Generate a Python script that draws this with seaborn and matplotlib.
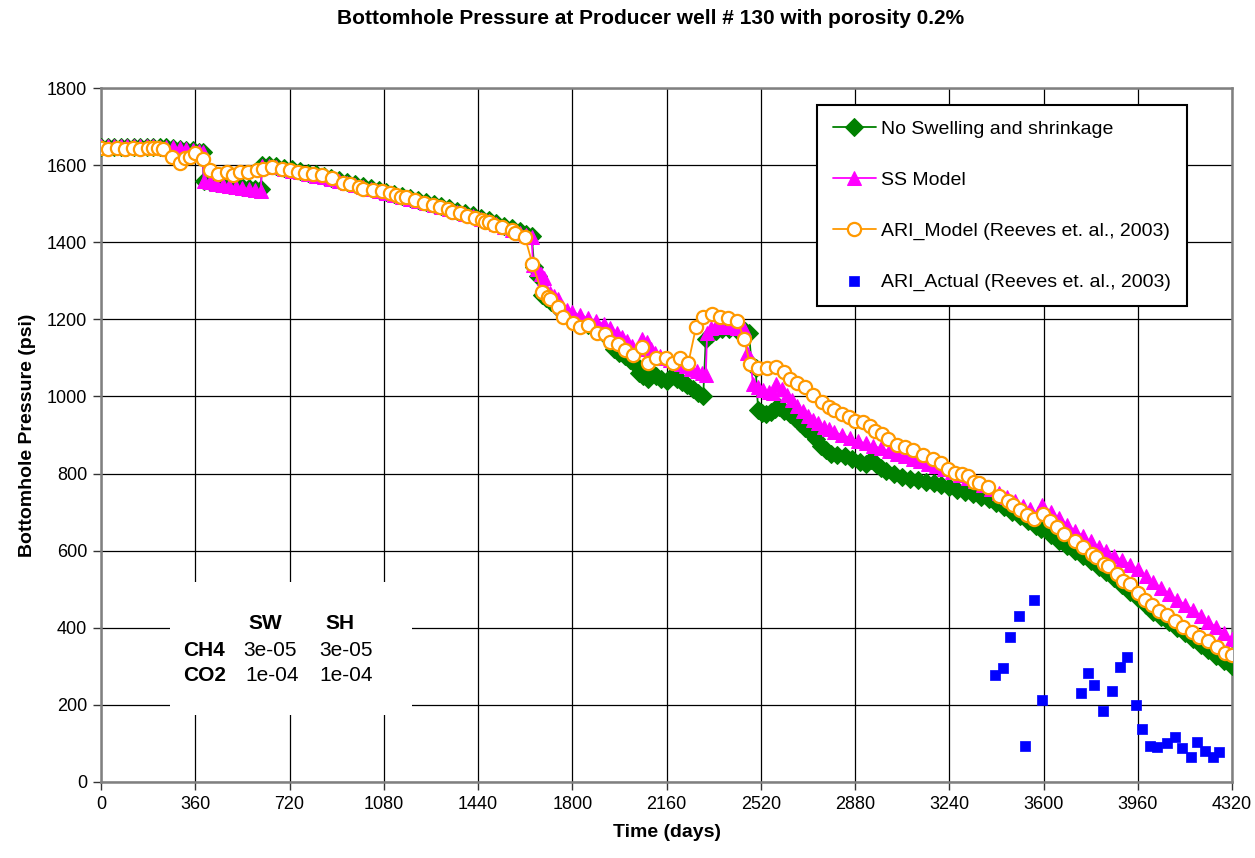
import numpy as np
import pandas as pd
import matplotlib
matplotlib.use("Agg")
import matplotlib.pyplot as plt
from matplotlib.patches import Rectangle
import seaborn as sns

# No swelling and shrinkage (green diamonds)
green_days = [0, 25, 50, 75, 100, 125, 150, 175, 200, 225, 250, 275, 300, 325, 350, 375, 388,
              392, 415, 440, 465, 490, 515, 540, 565, 590, 610,
              615, 640, 670, 700, 730, 760, 790, 820, 850, 880, 910, 940, 970, 1000, 1030, 1060,
              1090, 1120, 1150, 1180, 1210, 1240, 1270, 1300, 1330, 1360, 1390, 1420, 1450, 1480,
              1510, 1540, 1570, 1600, 1625, 1645,
              1655, 1670, 1685, 1700, 1720, 1740, 1760, 1780, 1800, 1830, 1860, 1890, 1920, 1945,
              1960, 1980, 2000, 2020, 2040, 2055, 2070, 2090, 2105, 2120, 2140, 2160, 2180, 2200,
              2220, 2240, 2260, 2280, 2300,
              2310, 2330, 2350, 2370, 2400, 2430, 2460, 2475, 2485, 2500,
              2510, 2525, 2540, 2560, 2575, 2590, 2610, 2630, 2650, 2670, 2690, 2710, 2730, 2750,
              2770, 2790, 2810, 2840, 2870, 2900, 2920, 2940, 2960, 2980, 3000, 3030, 3060, 3090,
              3120, 3150, 3180, 3210, 3240, 3270, 3300, 3330, 3360, 3390, 3420, 3450, 3480, 3510,
              3540, 3570, 3590, 3605, 3630, 3660, 3690, 3720, 3750, 3780, 3810, 3840, 3870, 3900,
              3930, 3960, 3990, 4020, 4050, 4080, 4110, 4140, 4170, 4200, 4230, 4260, 4290, 4320]
green_psi = [1648, 1648, 1648, 1648, 1648, 1648, 1648, 1647, 1647, 1646, 1646, 1644, 1642, 1640, 1638, 1635, 1633,
             1560, 1557, 1554, 1552, 1549, 1546, 1544, 1541, 1539, 1537,
             1601, 1600, 1597, 1593, 1589, 1585, 1580, 1576, 1571, 1567, 1562, 1557, 1551, 1545, 1540, 1536,
             1531, 1525, 1520, 1515, 1510, 1505, 1499, 1494, 1488, 1482, 1476, 1470, 1463, 1457,
             1450, 1443, 1436, 1428, 1421, 1416,
             1335, 1312, 1262, 1255, 1245, 1232, 1218, 1210, 1203, 1195, 1185, 1175, 1162, 1150,
             1122, 1112, 1104, 1095, 1083, 1060, 1052, 1045, 1062, 1054, 1046, 1040, 1052, 1046,
             1038, 1030, 1020, 1010, 1000,
             1148, 1162, 1170, 1174, 1175, 1173, 1170, 1165, 1082, 1075,
             965, 958, 955, 960, 968, 972, 962, 955, 945, 930, 918, 905, 890, 872,
             860, 852, 848, 845, 838, 830, 826, 836, 825, 814, 806, 798, 792, 787,
             783, 779, 775, 770, 764, 758, 752, 746, 740, 733, 724, 713, 701, 689,
             677, 665, 656, 662, 640, 626, 612, 598, 585, 572, 558, 545, 530, 512,
             494, 478, 458, 440, 428, 414, 400, 386, 372, 356, 342, 328, 314, 300]

# SS Model (magenta triangles)
ss_days = [0, 25, 50, 75, 100, 125, 150, 175, 200, 225, 250, 275, 300, 325, 350, 375, 388,
           392, 415, 440, 465, 490, 515, 540, 565, 590, 610,
           615, 640, 670, 700, 730, 760, 790, 820, 850, 880, 910, 940, 970, 1000, 1030, 1060,
           1090, 1120, 1150, 1180, 1210, 1240, 1270, 1300, 1330, 1360, 1390, 1420, 1450, 1480,
           1510, 1540, 1570, 1600, 1625, 1645,
           1650, 1665, 1680, 1692, 1700, 1715, 1730, 1745, 1760, 1780, 1800, 1830, 1860, 1890,
           1920, 1945, 1970, 1990, 2010, 2030, 2050, 2065, 2085, 2100, 2115, 2135, 2155, 2175,
           2195, 2215, 2235, 2255, 2275, 2295, 2310,
           2315, 2330, 2350, 2370, 2400, 2430, 2455, 2468, 2480,
           2490, 2510, 2530, 2550, 2565, 2580, 2600, 2620, 2640, 2660, 2680, 2700, 2720, 2740,
           2760, 2780, 2800, 2830, 2860, 2890, 2920, 2950, 2980, 3010, 3040, 3070, 3100, 3130,
           3160, 3190, 3220, 3250, 3280, 3310, 3340, 3370, 3400, 3430, 3460, 3490, 3520, 3550,
           3580, 3595, 3630, 3660, 3690, 3720, 3750, 3780, 3810, 3840, 3870, 3900, 3930, 3960,
           3990, 4020, 4050, 4080, 4110, 4140, 4170, 4200, 4230, 4260, 4290, 4320]
ss_psi = [1650, 1650, 1650, 1650, 1650, 1650, 1650, 1649, 1649, 1648, 1648, 1646, 1644, 1642, 1640, 1637, 1635,
          1558, 1555, 1552, 1549, 1546, 1543, 1541, 1538, 1536, 1534,
          1599, 1597, 1594, 1590, 1586, 1582, 1577, 1573, 1568, 1564, 1559, 1554, 1548, 1542, 1537, 1533,
          1528, 1522, 1517, 1512, 1507, 1502, 1496, 1491, 1485, 1479, 1473, 1467, 1460, 1454,
          1447, 1440, 1433, 1425, 1418, 1413,
          1340, 1330, 1318, 1308, 1275, 1268, 1260, 1252, 1232, 1225, 1218, 1210, 1203, 1196,
          1188, 1178, 1165, 1155, 1145, 1132, 1124, 1150, 1140, 1122, 1112, 1106, 1100, 1095,
          1090, 1084, 1078, 1072, 1066, 1060, 1055,
          1165, 1178, 1182, 1181, 1179, 1177, 1175, 1112, 1100,
          1032, 1024, 1018, 1012, 1008, 1032, 1020, 1005, 990, 975, 962, 950, 940, 930,
          922, 915, 908, 900, 893, 885, 878, 872, 865, 858, 851, 845, 839, 833,
          826, 819, 811, 803, 796, 788, 780, 770, 760, 750, 740, 729, 717, 707,
          697, 718, 700, 684, 667, 652, 638, 624, 610, 598, 586, 575, 564, 552,
          535, 518, 503, 488, 473, 460, 447, 431, 416, 401, 386, 370]

# ARI_Model (orange open circles)
ari_model_days = [0, 28, 60, 92, 123, 149, 181, 200, 219, 238, 270, 302, 321, 340, 359, 391, 416, 448,
                  480, 505, 531, 563, 595, 620, 652, 690, 722, 754, 779, 811, 843, 884, 925, 951, 987,
                  1002, 1038, 1072, 1104, 1127, 1145, 1165, 1199, 1234, 1269, 1295, 1327, 1340, 1371,
                  1397, 1429, 1454, 1467, 1483, 1501, 1531, 1569, 1581, 1619, 1648, 1683, 1709, 1715,
                  1747, 1766, 1804, 1830, 1861, 1893, 1925, 1944, 1976, 2002, 2031, 2065, 2091, 2120,
                  2158, 2186, 2212, 2243, 2273, 2298, 2333, 2364, 2396, 2431, 2457, 2479, 2511, 2543,
                  2578, 2609, 2632, 2660, 2689, 2721, 2755, 2780, 2801, 2829, 2858, 2880, 2909, 2937,
                  2956, 2982, 3007, 3039, 3071, 3103, 3141, 3179, 3210, 3236, 3262, 3287, 3313, 3334,
                  3355, 3389, 3431, 3465, 3485, 3510, 3536, 3564, 3599, 3625, 3650, 3678, 3720, 3752,
                  3784, 3801, 3831, 3847, 3880, 3905, 3930, 3960, 3988, 4013, 4042, 4071, 4102, 4134,
                  4166, 4195, 4230, 4262, 4293, 4320]
ari_model_psi = [1644, 1641, 1644, 1641, 1644, 1641, 1644, 1644, 1644, 1641, 1622, 1605, 1618, 1620, 1632, 1615, 1587, 1577,
                 1583, 1574, 1581, 1583, 1587, 1589, 1596, 1589, 1587, 1583, 1579, 1576, 1574, 1567, 1554, 1551, 1544,
                 1537, 1535, 1534, 1527, 1522, 1518, 1518, 1510, 1503, 1497, 1492, 1485, 1479, 1475,
                 1468, 1462, 1458, 1453, 1453, 1445, 1439, 1432, 1423, 1414, 1343, 1272, 1259, 1252,
                 1233, 1207, 1191, 1181, 1185, 1164, 1162, 1142, 1136, 1120, 1108, 1129, 1086, 1099,
                 1099, 1088, 1099, 1086, 1181, 1205, 1214, 1207, 1203, 1197, 1148, 1083, 1073, 1073,
                 1077, 1064, 1046, 1036, 1024, 1005, 986, 973, 965, 954, 948, 937, 935, 923,
                 911, 903, 889, 874, 868, 861, 848, 837, 828, 811, 802, 799, 794, 779,
                 775, 766, 741, 730, 718, 705, 692, 681, 695, 678, 661, 643, 626, 609,
                 591, 583, 565, 560, 539, 522, 514, 489, 472, 459, 444, 433, 418, 403,
                 390, 377, 366, 351, 335, 330]

# ARI_Actual (blue squares)
ari_actual_days = [3416, 3444, 3472, 3508, 3529, 3564, 3593, 3745, 3771, 3794, 3829, 3863, 3892,
                   3920, 3953, 3977, 4007, 4032, 4073, 4102, 4129, 4163, 4185, 4216, 4249, 4272]
ari_actual_psi = [278, 295, 375, 431, 94, 472, 213, 232, 282, 251, 184, 236, 299,
                  325, 199, 137, 93, 90, 100, 117, 87, 66, 105, 81, 66, 77]

x_ticks = list(range(0, 4321, 360))
y_ticks = list(range(0, 1801, 200))

sns.set_theme(style="white")
plt.rcParams['font.family'] = ['Liberation Sans', 'DejaVu Sans']
plt.rcParams.update({'text.color': 'black', 'axes.labelcolor': 'black',
                     'xtick.color': 'black', 'ytick.color': 'black'})

fig = plt.figure(figsize=(12.55, 8.58), dpi=100)
ax = fig.add_axes([0.0805, 0.0886, 0.9012, 0.8088])

sns.lineplot(x=green_days, y=green_psi, ax=ax, sort=False, color='#008000', lw=1.3,
             marker='D', markersize=9, markeredgecolor='#008000', label='No Swelling and shrinkage', zorder=3)
sns.lineplot(x=ss_days, y=ss_psi, ax=ax, sort=False, color='#FF00FF', lw=1.3,
             marker='^', markersize=10, markeredgecolor='#FF00FF', label='SS Model', zorder=4)
sns.lineplot(x=ari_model_days, y=ari_model_psi, ax=ax, sort=False, color='#FF9900', lw=1.3,
             marker='o', markersize=9.5, markerfacecolor='white', markeredgecolor='#FF9900',
             markeredgewidth=1.6, label='ARI_Model (Reeves et. al., 2003)', zorder=5)
sns.scatterplot(x=ari_actual_days, y=ari_actual_psi, ax=ax, color='#0000FF', marker='s', s=55,
                edgecolor='#0000FF', linewidth=0.5, label='ARI_Actual (Reeves et. al., 2003)', zorder=6)

ax.set_xlim(0, 4320)
ax.set_ylim(0, 1800)
ax.set_xticks(x_ticks)
ax.set_yticks(y_ticks)
ax.tick_params(axis='both', labelsize=13, direction='out', length=6, width=1, color='#333333',
               labelcolor='black', bottom=True, left=True, pad=4)
ax.grid(True, color='#000000', lw=0.9)
ax.set_axisbelow(True)
for sp in ax.spines.values():
    sp.set_color('#808080')
    sp.set_linewidth(1.8)

ax.set_xlabel('Time (days)', fontsize=14, fontweight='bold', labelpad=8, color='black')
ax.set_ylabel('Bottomhole Pressure (psi)', fontsize=14, fontweight='bold', labelpad=8, color='black')
fig.text(0.518, 0.978, 'Bottomhole Pressure at Producer well # 130 with porosity 0.2%',
         ha='center', va='center', fontsize=15, fontweight='bold', color='black')

# parameter table box
ax.add_patch(Rectangle((264, 174), 924, 345, facecolor='white', edgecolor='none', zorder=2.5))
tkw = dict(fontsize=15, zorder=3, va='center', color='black')
ax.text(626, 410, 'SW', ha='center', fontweight='bold', **tkw)
ax.text(913, 410, 'SH', ha='center', fontweight='bold', **tkw)
ax.text(313, 342, 'CH4', ha='left', fontweight='bold', **tkw)
ax.text(645, 342, '3e-05', ha='center', **tkw)
ax.text(936, 342, '3e-05', ha='center', **tkw)
ax.text(313, 275, 'CO2', ha='left', fontweight='bold', **tkw)
ax.text(653, 275, '1e-04', ha='center', **tkw)
ax.text(936, 275, '1e-04', ha='center', **tkw)

leg = ax.legend(loc='upper right', bbox_to_anchor=(0.960, 0.9755), borderaxespad=0,
                fontsize=14, frameon=True, fancybox=False, framealpha=1, edgecolor='#000000',
                labelspacing=1.7, handlelength=2.2, handletextpad=0.3, borderpad=0.8,
                labelcolor='black')
leg.get_frame().set_linewidth(1.5)
leg.set_zorder(10)

fig.savefig('out.png', dpi=100)
